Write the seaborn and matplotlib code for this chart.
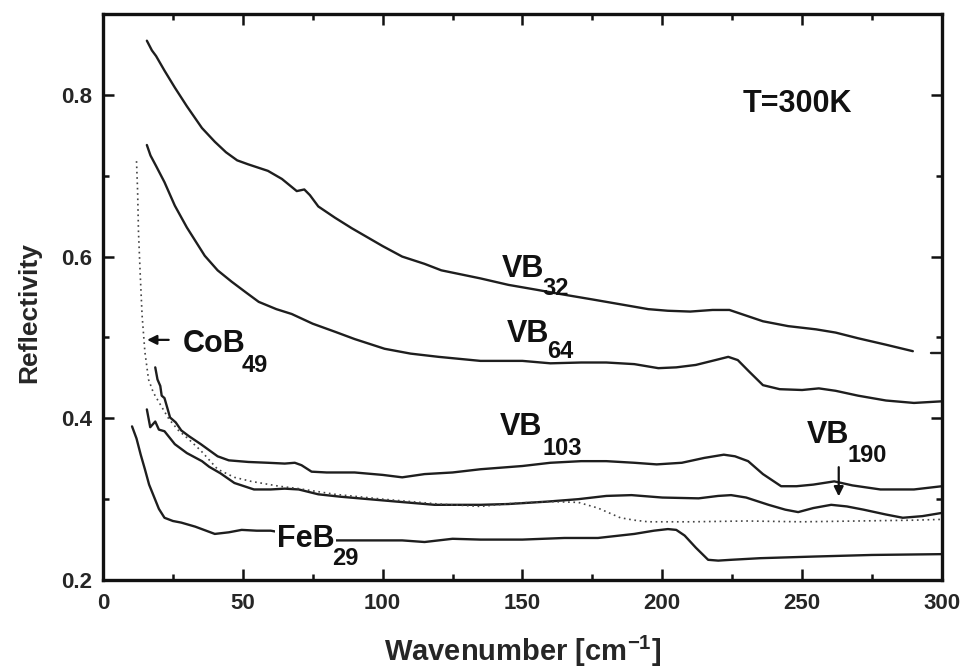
import numpy as np
import pandas as pd
import matplotlib
matplotlib.use("Agg")
import matplotlib.pyplot as plt
from matplotlib.ticker import MultipleLocator, FormatStrFormatter
import seaborn as sns

# Far-infrared reflectivity of boride samples at room temperature
vb32_x = [15.7, 17.5, 19, 22, 25.7, 30, 35.4, 40, 44, 48, 52, 59, 64, 69.3, 72, 74, 77, 83, 89,
          95, 100, 107, 115, 121, 128, 135, 145, 155, 163, 175, 185, 195, 202, 210, 218,
          224, 230, 236, 245, 255, 262, 270, 280, 289.6]
vb32_y = [0.867, 0.855, 0.848, 0.830, 0.809, 0.786, 0.759, 0.742, 0.729, 0.719, 0.714, 0.706,
          0.696, 0.681, 0.683, 0.676, 0.662, 0.648, 0.635, 0.623, 0.613, 0.600, 0.591, 0.583,
          0.578, 0.573, 0.565, 0.559, 0.554, 0.547, 0.541, 0.535, 0.533, 0.532, 0.534, 0.534,
          0.527, 0.520, 0.514, 0.510, 0.506, 0.499, 0.491, 0.483]
vb32_tail_x = [296, 300]
vb32_tail_y = [0.481, 0.481]

vb64_x = [15.7, 17, 19, 22, 25.7, 30, 36.4, 41, 46, 51, 55.7, 62, 67.5, 75, 83, 90, 100.7,
          110, 120, 135, 150, 160, 171, 180, 190, 198.6, 205, 212, 219, 223.6, 227, 231, 236,
          242, 250, 256, 262, 270, 280, 290, 300]
vb64_y = [0.738, 0.725, 0.712, 0.692, 0.663, 0.636, 0.601, 0.583, 0.569, 0.556, 0.544, 0.535,
          0.529, 0.517, 0.507, 0.498, 0.486, 0.480, 0.476, 0.471, 0.471, 0.468, 0.469, 0.469,
          0.467, 0.462, 0.463, 0.466, 0.472, 0.476, 0.472, 0.458, 0.441, 0.436, 0.435, 0.437,
          0.434, 0.428, 0.422, 0.419, 0.421]

vb103_x = [18.7, 19.5, 20.5, 21, 22, 24, 26, 28, 30.7, 35, 41, 45, 52, 59, 65, 68.6, 71, 74.6,
           80, 90, 100, 107, 115, 125, 135, 150, 160, 171, 180, 190, 198, 207, 215, 222, 226,
           230.7, 236, 242.5, 248, 254, 261.5, 268, 278, 290, 300]
vb103_y = [0.463, 0.448, 0.440, 0.428, 0.425, 0.401, 0.395, 0.385, 0.378, 0.368, 0.353, 0.348,
           0.346, 0.345, 0.344, 0.345, 0.342, 0.334, 0.333, 0.333, 0.330, 0.327, 0.331, 0.333,
           0.337, 0.341, 0.345, 0.347, 0.347, 0.345, 0.343, 0.345, 0.351, 0.355, 0.353, 0.347,
           0.331, 0.316, 0.316, 0.318, 0.322, 0.317, 0.312, 0.312, 0.316]

vb190_x = [15.7, 16.9, 18.7, 20, 22, 25.7, 30, 35.4, 38, 42, 47, 54, 60, 65, 70, 77, 85, 95,
           105, 118.6, 135, 145, 159, 170, 180, 189, 200, 213, 220, 224.6, 230, 238, 244,
           248.6, 254, 260.4, 266, 272, 280, 286, 293, 300]
vb190_y = [0.411, 0.389, 0.396, 0.386, 0.384, 0.368, 0.357, 0.347, 0.340, 0.332, 0.320, 0.312,
           0.312, 0.313, 0.312, 0.306, 0.303, 0.300, 0.297, 0.293, 0.293, 0.294, 0.297, 0.300,
           0.304, 0.305, 0.302, 0.301, 0.304, 0.305, 0.302, 0.293, 0.287, 0.284, 0.289, 0.293,
           0.291, 0.287, 0.281, 0.277, 0.279, 0.283]

cob49_x = [12, 12.4, 12.7, 13.3, 14, 15, 16.3, 18, 20, 23.6, 27, 30.7, 35, 41, 47, 53, 63, 70,
           83, 100, 120, 135, 147, 160, 170, 177, 181, 185, 190, 195, 210, 230, 250, 270, 290,
           300]
cob49_y = [0.718, 0.680, 0.631, 0.580, 0.527, 0.482, 0.448, 0.432, 0.420, 0.399, 0.385, 0.374,
           0.360, 0.337, 0.327, 0.322, 0.316, 0.313, 0.306, 0.300, 0.294, 0.291, 0.295, 0.297,
           0.296, 0.289, 0.283, 0.277, 0.274, 0.272, 0.272, 0.273, 0.272, 0.273, 0.274, 0.275]

feb29_x = [10.4, 12, 13.5, 15, 16.5, 18.6, 20, 22, 25, 28, 33, 40, 45, 49.6, 55, 60, 65, 70,
           75, 83, 95, 107, 115, 125, 135, 150, 165, 177, 190, 197, 202, 205, 208, 212, 216.4,
           220, 224.6, 235, 254, 275, 300]
feb29_y = [0.390, 0.375, 0.355, 0.337, 0.318, 0.300, 0.288, 0.277, 0.273, 0.271, 0.266, 0.257,
           0.259, 0.262, 0.261, 0.261, 0.258, 0.257, 0.252, 0.249, 0.249, 0.249, 0.247, 0.251,
           0.250, 0.250, 0.252, 0.252, 0.257, 0.261, 0.263, 0.262, 0.255, 0.240, 0.225, 0.224,
           0.225, 0.227, 0.229, 0.231, 0.232]

x_major = [0, 50, 100, 150, 200, 250, 300]
y_major = [0.2, 0.4, 0.6, 0.8]

sns.set_theme(style="ticks")
plt.rcParams["font.family"] = ["Liberation Sans", "DejaVu Sans"]
plt.rcParams["font.weight"] = "bold"

fig = plt.figure(figsize=(9.64, 6.70), dpi=100)
ax = fig.add_axes([0.1068, 0.1343, 0.8703, 0.8448])

line_col = "#1e1e1e"
solid = [(vb32_x, vb32_y), (vb32_tail_x, vb32_tail_y), (vb64_x, vb64_y),
         (vb103_x, vb103_y), (vb190_x, vb190_y), (feb29_x, feb29_y)]
for xs, ys in solid:
    sns.lineplot(x=xs, y=ys, ax=ax, color=line_col, lw=1.7, sort=False,
                 estimator=None, legend=False)
sns.lineplot(x=cob49_x, y=cob49_y, ax=ax, color="#444444", lw=1.2, sort=False,
             estimator=None, legend=False, linestyle=(0, (1, 2.2)))

ax.set_xlim(0, 300)
ax.set_ylim(0.2, 0.9)
ax.set_xticks(x_major)
ax.set_yticks(y_major)
ax.xaxis.set_minor_locator(MultipleLocator(25))
ax.yaxis.set_minor_locator(MultipleLocator(0.1))
ax.yaxis.set_major_formatter(FormatStrFormatter("%.1f"))
ax.tick_params(which="both", direction="in", top=True, right=True, color="#111111",
               width=1.8)
ax.tick_params(which="major", length=8, labelsize=16)
ax.tick_params(which="minor", length=4)
ax.tick_params(axis="x", which="major", pad=9)
ax.tick_params(axis="y", which="major", pad=8)
for lab in ax.get_xticklabels() + ax.get_yticklabels():
    lab.set_fontweight("bold")
for sp in ax.spines.values():
    sp.set_linewidth(2.4)
    sp.set_color("#111111")

ax.set_xlabel("Wavenumber [cm$^{\\mathregular{-1}}$]", fontsize=21, fontweight="bold")
ax.set_ylabel("Reflectivity", fontsize=19, fontweight="bold")
ax.xaxis.set_label_coords(0.5, -0.095)
ax.yaxis.set_label_coords(-0.073, 0.472)

big = dict(fontsize=22, fontweight="bold", ha="left", va="baseline", color="#111111")
small = dict(fontsize=17, fontweight="bold", ha="left", va="baseline", color="#111111")

ax.text(228.8, 0.779, "T=300K", **big)
ax.text(142.7, 0.575, "VB", **big)
ax.text(157.3, 0.5525, "32", **small)
ax.text(144.4, 0.494, "VB", **big)
ax.text(158.7, 0.4745, "64", **small)
ax.text(141.9, 0.379, "VB", **big)
ax.text(157.3, 0.3546, "103", **small)
ax.text(251.7, 0.369, "VB", **big)
ax.text(266.4, 0.346, "190", **small)
ax.text(28.6, 0.482, "CoB", **big)
ax.text(49.7, 0.457, "49", **small)
ax.text(62.2, 0.241, "FeB", bbox=dict(facecolor="white", edgecolor="none", pad=1), **big)
ax.text(81.9, 0.2186, "29", **small)

arrow = dict(arrowstyle="-|>", color="#111111", lw=1.6, mutation_scale=14)
ax.annotate("", xy=(263.1, 0.300), xytext=(263.1, 0.343), arrowprops=arrow)
ax.annotate("", xy=(14.8, 0.497), xytext=(24.5, 0.497), arrowprops=arrow)

fig.savefig("out.png", dpi=100, facecolor="white")
